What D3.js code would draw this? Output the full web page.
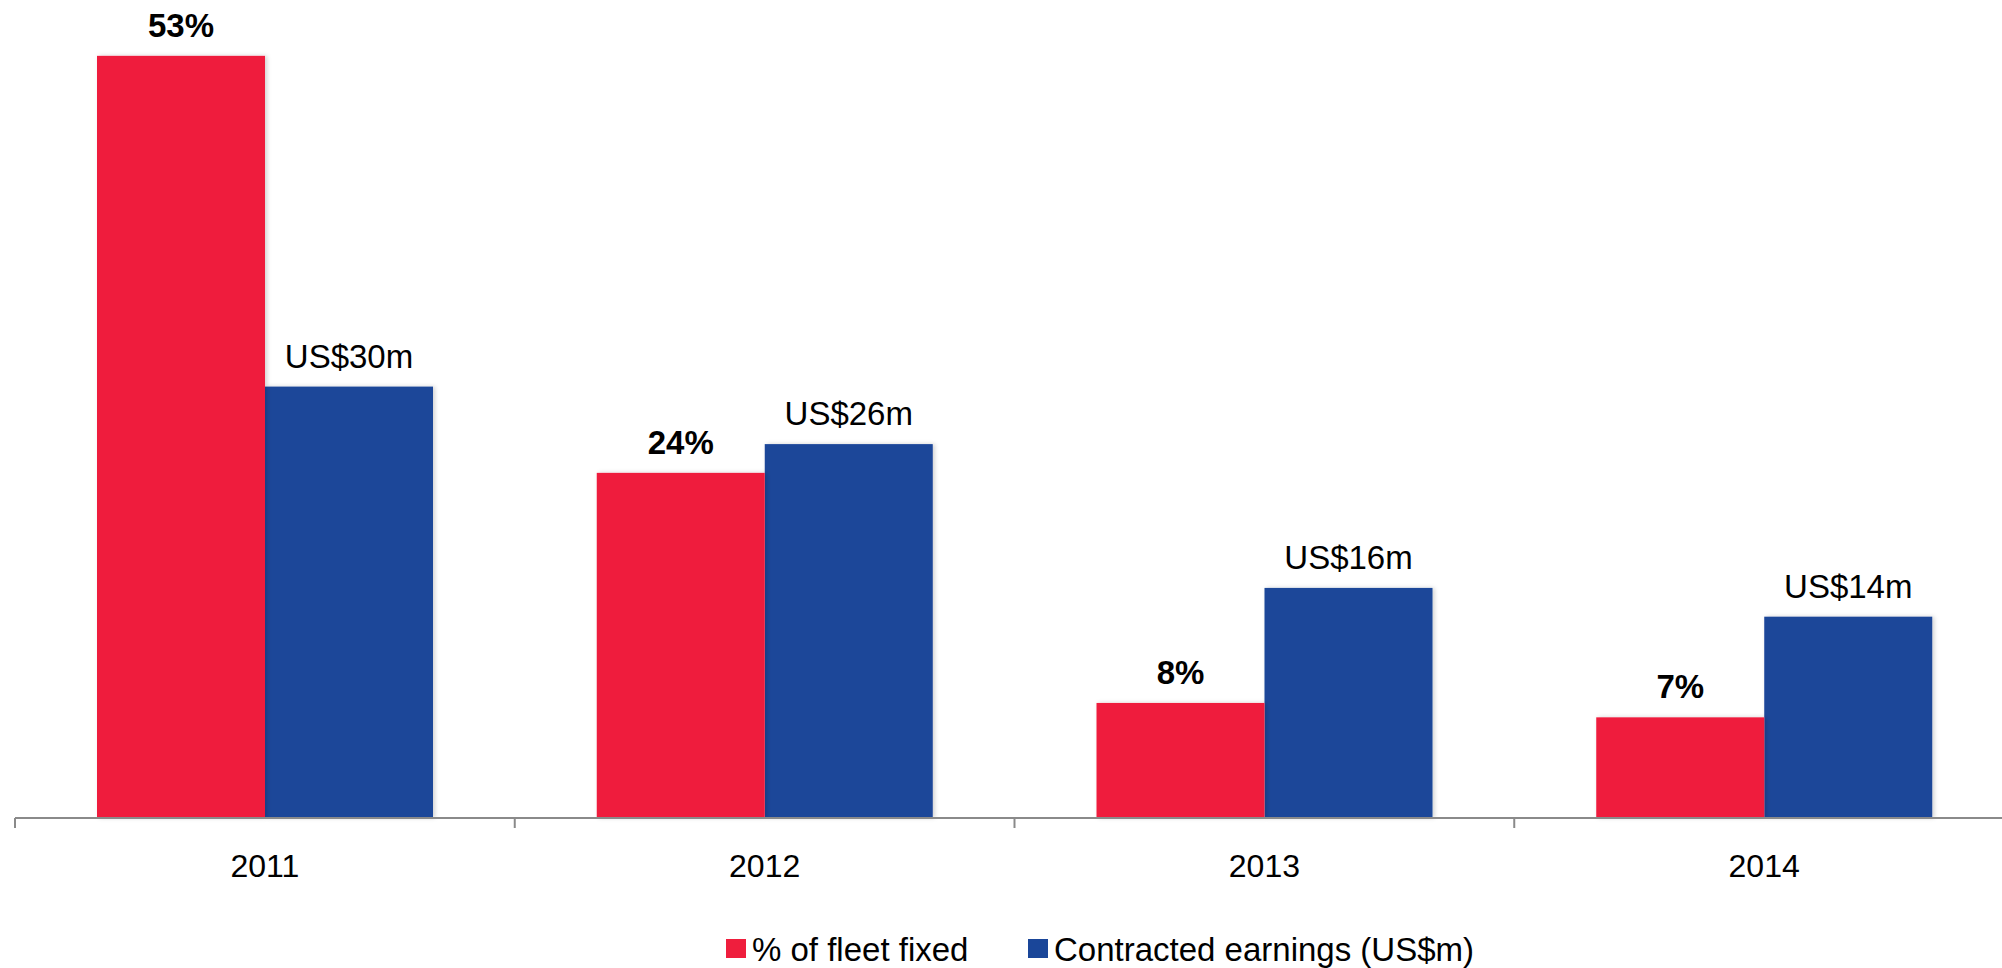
<!DOCTYPE html>
<html>
<head>
<meta charset="utf-8">
<script src="https://cdn.jsdelivr.net/npm/d3@7/dist/d3.min.js"></script>
<style>
  html, body { margin: 0; padding: 0; background: #ffffff; }
  svg { display: block; font-family: "Liberation Sans", Arial, sans-serif; }
</style>
</head>
<body>
<svg id="chart" width="2002" height="968"></svg>
<script>
// Fleet cover and contracted earnings by year
const years = ["2011", "2012", "2013", "2014"];
const fleetFixedPct = [53, 24, 8, 7];
const contractedEarnings = [30, 26, 16, 14];
const fleetLabels = ["53%", "24%", "8%", "7%"];
const earningsLabels = ["US$30m", "US$26m", "US$16m", "US$14m"];
const seriesNames = ["% of fleet fixed", "Contracted earnings (US$m)"];

const RED = "#EF1E3D";
const BLUE = "#1A4699";

const svg = d3.select("#chart");
const baseY = 818;

const x = d3.scaleBand().domain(years).range([15, 2014]).padding(0);
const inner = d3.scaleBand().domain(["fleet", "earnings"]).range([82, 418]).padding(0);
const y = d3.scaleLinear().domain([0, 55]).range([baseY, baseY - 55 * 14.38]);

// soft edge shadow on bars
const defs = svg.append("defs");
const f = defs.append("filter").attr("id", "barShadow")
  .attr("x", "-5%").attr("y", "-5%").attr("width", "115%").attr("height", "110%");
f.append("feDropShadow").attr("dx", 2).attr("dy", 0).attr("stdDeviation", 2)
  .attr("flood-color", "#000").attr("flood-opacity", 0.18);

const rows = years.map((yr, i) => ({
  year: yr,
  fleet: fleetFixedPct[i],
  earnings: contractedEarnings[i],
  fleetLabel: fleetLabels[i],
  earningsLabel: earningsLabels[i]
}));

const groups = svg.append("g").selectAll("g")
  .data(rows).join("g")
  .attr("transform", d => `translate(${x(d.year)},0)`);

// blue first so the red bar sits over its shadow
groups.append("rect")
  .attr("x", inner("earnings"))
  .attr("width", inner.bandwidth())
  .attr("y", d => y(d.earnings))
  .attr("height", d => baseY - y(d.earnings))
  .attr("fill", BLUE)
  .attr("filter", "url(#barShadow)");

groups.append("rect")
  .attr("x", inner("fleet"))
  .attr("width", inner.bandwidth())
  .attr("y", d => y(d.fleet))
  .attr("height", d => baseY - y(d.fleet))
  .attr("fill", RED)
  .attr("filter", "url(#barShadow)");

groups.append("text")
  .attr("x", inner("fleet") + inner.bandwidth() / 2)
  .attr("y", d => y(d.fleet) - 19)
  .attr("text-anchor", "middle")
  .attr("font-size", 33)
  .attr("font-weight", "bold")
  .attr("fill", "#000")
  .text(d => d.fleetLabel);

groups.append("text")
  .attr("x", inner("earnings") + inner.bandwidth() / 2)
  .attr("y", d => y(d.earnings) - 19)
  .attr("text-anchor", "middle")
  .attr("font-size", 33)
  .attr("fill", "#000")
  .text(d => d.earningsLabel);

// category axis with ticks on the band boundaries
const axisG = svg.append("g");
const [x0, x1] = x.range();
axisG.append("line")
  .attr("x1", x0).attr("x2", x1)
  .attr("y1", baseY).attr("y2", baseY)
  .attr("stroke", "#8a8a8a").attr("stroke-width", 2);
const tickXs = years.map(d => x(d)).concat([x1]);
axisG.selectAll("line.tick").data(tickXs).join("line")
  .attr("class", "tick")
  .attr("x1", d => d).attr("x2", d => d)
  .attr("y1", baseY).attr("y2", baseY + 10)
  .attr("stroke", "#8a8a8a").attr("stroke-width", 2);
axisG.selectAll("text").data(years).join("text")
  .attr("x", d => x(d) + x.bandwidth() / 2)
  .attr("y", 877)
  .attr("text-anchor", "middle")
  .attr("font-size", 32)
  .attr("fill", "#000")
  .text(d => d);

// legend
const legendItems = [
  { name: seriesNames[0], color: RED, x: 726 },
  { name: seriesNames[1], color: BLUE, x: 1028 }
];
const lg = svg.append("g").selectAll("g").data(legendItems).join("g")
  .attr("transform", d => `translate(${d.x},939)`);
lg.append("rect").attr("width", 20).attr("height", 19).attr("fill", d => d.color);
lg.append("text")
  .attr("x", 26).attr("y", 22)
  .attr("font-size", 33)
  .attr("fill", "#000")
  .text(d => d.name);
</script>
</body>
</html>
